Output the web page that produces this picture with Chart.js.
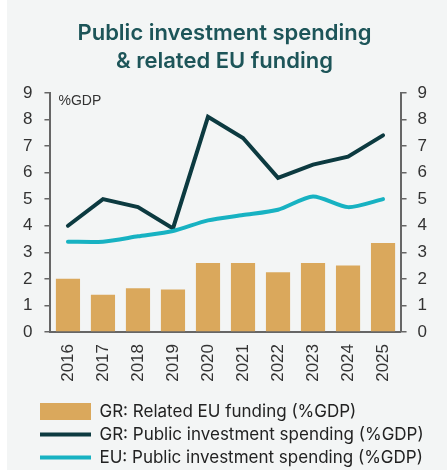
<!DOCTYPE html>
<html>
<head>
<meta charset="utf-8">
<script src="https://cdn.jsdelivr.net/npm/chart.js@4.4.1/dist/chart.umd.min.js"></script>
<style>
  html, body { margin: 0; padding: 0; background: #fff; overflow: hidden; }
  #wrap { position: absolute; left: 7px; top: 0; width: 440px; height: 476px; background: #f3f5f5; }
</style>
</head>
<body>
<div id="wrap"><canvas id="chart"></canvas></div>
<script>
const years = ['2016', '2017', '2018', '2019', '2020', '2021', '2022', '2023', '2024', '2025'];
const grEuFunding = [2.0, 1.4, 1.65, 1.6, 2.6, 2.6, 2.25, 2.6, 2.5, 3.35];
const grInvestment = [4.0, 5.0, 4.7, 3.9, 8.1, 7.3, 5.8, 6.3, 6.6, 7.4];
const euInvestment = [3.4, 3.4, 3.6, 3.8, 4.2, 4.4, 4.6, 5.1, 4.7, 5.0];
const yMin = 0, yMax = 9;

const tickFont = { family: '"Liberation Sans", Arial, sans-serif', size: 17 };
const axisColor = '#666';

// unit caption in the top-left corner of the plot
const unitLabel = {
  id: 'unitLabel',
  afterDraw(chart) {
    const { ctx, chartArea } = chart;
    ctx.save();
    ctx.font = '14px "Liberation Sans", Arial, sans-serif';
    ctx.fillStyle = '#333';
    ctx.textBaseline = 'middle';
    ctx.fillText('%GDP', chartArea.left + 8, chartArea.top + 8);
    ctx.restore();
  }
};

// push the legend block to the right so it lines up under the plot
const legendIndent = {
  id: 'legendIndent',
  afterLayout(chart) {
    chart.legend.left += 23;
  }
};

function valueAxis(position, pad) {
  return {
    position,
    min: yMin,
    max: yMax,
    ticks: { stepSize: 1, font: tickFont, color: '#333', padding: pad },
    grid: { drawOnChartArea: false, color: axisColor, lineWidth: 1.5, tickLength: 6 },
    border: { display: true, color: axisColor, width: 2 }
  };
}

const ctx = document.getElementById('chart').getContext('2d');
const chart = new Chart(ctx, {
  type: 'bar',
  data: {
    labels: years,
    datasets: [
      {
        type: 'bar',
        label: 'GR: Related EU funding (%GDP)',
        data: grEuFunding,
        backgroundColor: '#daa85c',
        borderWidth: 0,
        barPercentage: 0.69,
        categoryPercentage: 1,
        pointStyle: 'rect',
        order: 2
      },
      {
        type: 'line',
        label: 'GR: Public investment spending (%GDP)',
        data: grInvestment,
        borderColor: '#0c3a40',
        backgroundColor: '#0c3a40',
        borderWidth: 4,
        borderCapStyle: 'round',
        pointRadius: 0,
        pointStyle: 'line',
        tension: 0,
        order: 1
      },
      {
        type: 'line',
        label: 'EU: Public investment spending (%GDP)',
        data: euInvestment,
        borderColor: '#17b2c2',
        backgroundColor: '#17b2c2',
        borderWidth: 4,
        borderCapStyle: 'round',
        pointRadius: 0,
        pointStyle: 'line',
        tension: 0.25,
        order: 0
      }
    ]
  },
  options: {
    responsive: true,
    maintainAspectRatio: false,
    animation: false,
    layout: { padding: { left: 4, right: 9, top: 0, bottom: 0 } },
    scales: {
      x: {
        afterFit: scale => { scale.height = 65; },
        ticks: { font: tickFont, color: '#333', minRotation: 90, maxRotation: 90, padding: 12 },
        grid: { display: false, drawTicks: false },
        border: { display: true, color: axisColor, width: 2 }
      },
      y: valueAxis('left', 12),
      y1: valueAxis('right', 11)
    },
    plugins: {
      title: {
        display: true,
        text: ['Public investment spending', '& related EU funding'],
        color: '#1d5559',
        font: { family: 'Inter, sans-serif', size: 22, weight: '600', lineHeight: 1.27 },
        padding: { top: 19, bottom: 18 }
      },
      legend: {
        position: 'bottom',
        align: 'start',
        labels: {
          usePointStyle: true,
          pointStyleWidth: 51,
          padding: 6,
          color: '#222',
          font: { family: 'Inter, sans-serif', size: 17 },
          sort: (a, b) => a.datasetIndex - b.datasetIndex
        }
      },
      tooltip: { enabled: false }
    }
  },
  plugins: [unitLabel, legendIndent]
});
</script>
</body>
</html>
